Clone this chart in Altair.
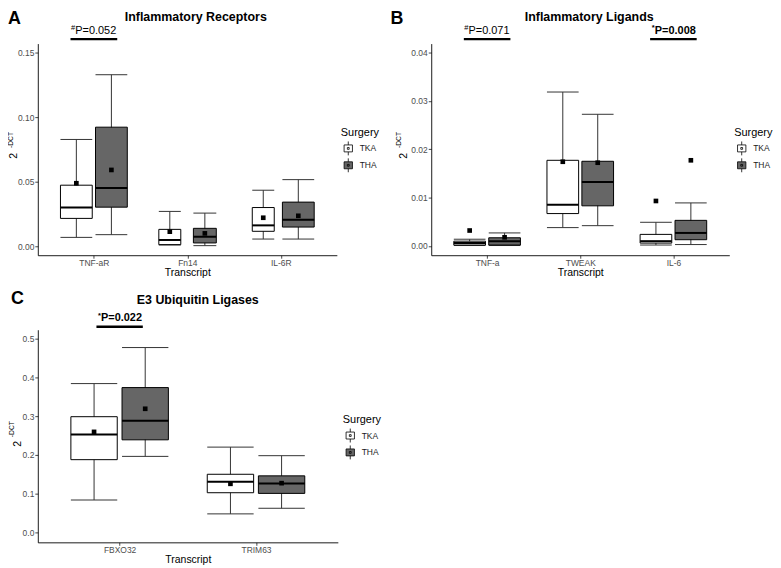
import altair as alt
import pandas as pd

FONT = "Liberation Sans"
surgeries = ["TKA", "THA"]
fill_colors = ["#FFFFFF", "#666666"]

# ---------- Panel A: Inflammatory Receptors ----------
a_cats = ["TNF-aR", "Fn14", "IL-6R"]
a_tka_lower = [0.0069, 0.0010, 0.0056]
a_tka_q1 = [0.0216, 0.0013, 0.0116]
a_tka_median = [0.0300, 0.0049, 0.0162]
a_tka_q3 = [0.0473, 0.0131, 0.0300]
a_tka_upper = [0.0827, 0.0270, 0.0434]
a_tka_mean = [0.0488, 0.0113, 0.0221]
a_tka_width = [0.34, 0.235, 0.235]
a_tha_lower = [0.0090, 0.0005, 0.0056]
a_tha_q1 = [0.0303, 0.0026, 0.0149]
a_tha_median = [0.0452, 0.0074, 0.0205]
a_tha_q3 = [0.0922, 0.0139, 0.0342]
a_tha_upper = [0.1328, 0.0257, 0.0516]
a_tha_mean = [0.0591, 0.0100, 0.0236]
a_tha_width = [0.34, 0.245, 0.34]
a_yticks = [0.0, 0.05, 0.10, 0.15]
a_ann_x = [1]
a_ann_sym = ["#"]
a_ann_label = ["P=0.052"]
a_ann_bold = [False]

# ---------- Panel B: Inflammatory Ligands ----------
b_cats = ["TNF-a", "TWEAK", "IL-6"]
b_tka_lower = [0.0001, 0.0038, 0.0002]
b_tka_q1 = [0.0002, 0.0067, 0.0006]
b_tka_median = [0.0006, 0.0085, 0.0010]
b_tka_q3 = [0.0010, 0.0177, 0.0024]
b_tka_upper = [0.0014, 0.0318, 0.0049]
b_tka_mean = [0.0032, 0.0174, 0.0093]
b_tka_width = [0.34, 0.34, 0.34]
b_tha_lower = [0.0001, 0.0042, 0.0003]
b_tha_q1 = [0.0002, 0.0083, 0.0013]
b_tha_median = [0.0010, 0.0132, 0.0027]
b_tha_q3 = [0.0017, 0.0175, 0.0053]
b_tha_upper = [0.0027, 0.0272, 0.0089]
b_tha_mean = [0.0018, 0.0172, 0.0177]
b_tha_width = [0.34, 0.34, 0.34]
b_yticks = [0.0, 0.01, 0.02, 0.03, 0.04]
b_ann_x = [1, 3]
b_ann_sym = ["#", "*"]
b_ann_label = ["P=0.071", "P=0.008"]
b_ann_bold = [False, True]

# ---------- Panel C: E3 Ubiquitin Ligases ----------
c_cats = ["FBXO32", "TRIM63"]
c_tka_lower = [0.0836, 0.0478]
c_tka_q1 = [0.1877, 0.1024]
c_tka_median = [0.2526, 0.1305]
c_tka_q3 = [0.2986, 0.1500]
c_tka_upper = [0.3840, 0.2201]
c_tka_mean = [0.2594, 0.1254]
c_tka_width = [0.34, 0.34]
c_tha_lower = [0.1962, 0.0623]
c_tha_q1 = [0.2389, 0.1007]
c_tha_median = [0.2884, 0.1263]
c_tha_q3 = [0.3737, 0.1459]
c_tha_upper = [0.4770, 0.1980]
c_tha_mean = [0.3190, 0.1271]
c_tha_width = [0.34, 0.34]
c_yticks = [0.0, 0.1, 0.2, 0.3, 0.4, 0.5]
c_ann_x = [1]
c_ann_sym = ["*"]
c_ann_label = ["P=0.022"]
c_ann_bold = [True]

DODGE = 0.1875

# legend key: mini box with whiskers and mean dot
SYMBOL = ("M-0.6,-0.5H0.6V0.5H-0.6Z M0,-1V-0.5 M0,0.5V1 "
          "M-0.13,-0.13H0.13V0.13H-0.13Z")


def box_df(cats, tka, tha):
    rows = []
    for i, cat in enumerate(cats):
        for s, vals, off in (("TKA", tka, -DODGE), ("THA", tha, DODGE)):
            pos = i + 1 + off
            half = vals[6][i] / 2
            rows.append(dict(transcript=cat, surgery=s, pos=pos,
                             xl=pos - half, xr=pos + half,
                             lower=vals[0][i], q1=vals[1][i], median=vals[2][i],
                             q3=vals[3][i], upper=vals[4][i], mean=vals[5][i]))
    return pd.DataFrame(rows)


def ann_df(xs, syms, labels, bolds, half):
    return pd.DataFrame(dict(x=xs, x1=[v - half for v in xs], x2=[v + half for v in xs],
                             sym=syms, label=labels, bold=bolds))


def panel(df, adf, cats, letter, title, ydom, yvals, yfmt, width, height,
          letter_x, letter_y, title_x, title_y, two_x, sup_x, two_y, sup_y,
          leg_x, leg_y, line_y, text_y):
    xmax = len(cats) + 0.6
    xs = alt.Scale(domain=[0.4, xmax], nice=False, zero=False)
    ys = alt.Scale(domain=ydom, nice=False, zero=False)
    expr = "[" + ",".join(["''"] + ["'%s'" % c for c in cats]) + "][datum.value]"
    xa = alt.Axis(values=list(range(1, len(cats) + 1)), labelExpr=expr,
                  title="Transcript", grid=False, labelPadding=0,
                  labelColor="#4D4D4D", labelFont=FONT, labelFontSize=8.5,
                  titleColor="black", titleFont=FONT, titleFontSize=10.5,
                  titleFontWeight="normal", titlePadding=1,
                  domainColor="black", tickColor="#333333")
    ya = alt.Axis(values=yvals, format=yfmt, title=None, grid=False,
                  labelColor="#4D4D4D", labelFont=FONT, labelFontSize=8.5,
                  labelPadding=1, domainColor="black", tickColor="#333333")

    def X(f):
        return alt.X(f, type="quantitative", scale=xs, axis=xa)

    def Y(f):
        return alt.Y(f, type="quantitative", scale=ys, axis=ya)

    base = alt.Chart(df)
    whisk = base.mark_rule(color="#333333", strokeWidth=1).encode(
        x=X("pos"), y=Y("lower"), y2=alt.Y2("upper"))
    cap_hi = base.mark_rule(color="#333333", strokeWidth=1).encode(
        x=X("xl"), x2=alt.X2("xr"), y=Y("upper"))
    cap_lo = base.mark_rule(color="#333333", strokeWidth=1).encode(
        x=X("xl"), x2=alt.X2("xr"), y=Y("lower"))
    box = base.mark_rect(stroke="black", strokeWidth=1).encode(
        x=X("xl"), x2=alt.X2("xr"), y=Y("q1"), y2=alt.Y2("q3"),
        fill=alt.Fill("surgery:N",
                      scale=alt.Scale(domain=surgeries, range=fill_colors),
                      legend=alt.Legend(title="Surgery", orient="none",
                                        legendX=leg_x, legendY=leg_y,
                                        direction="vertical",
                                        symbolType=SYMBOL, symbolSize=196,
                                        symbolStrokeColor="black",
                                        symbolStrokeWidth=0.8,
                                        symbolOpacity=1,
                                        labelFont=FONT, labelFontSize=8.5,
                                        labelColor="#1a1a1a", labelOffset=4,
                                        titleFont=FONT, titleFontSize=11,
                                        titleFontWeight="normal",
                                        titleColor="black", titlePadding=3,
                                        rowPadding=-8, padding=0)))
    med = base.mark_rule(color="black", strokeWidth=2).encode(
        x=X("xl"), x2=alt.X2("xr"), y=Y("median"))
    mean = base.mark_point(shape="square", filled=True, size=22, color="black",
                           opacity=1).encode(x=X("pos"), y=Y("mean"))

    ann = alt.Chart(adf)
    ann_rule = ann.mark_rule(color="black", strokeWidth=2.5).encode(
        x=X("x1"), x2=alt.X2("x2"), y=alt.value(line_y))
    layers = [whisk, cap_hi, cap_lo, box, med, mean, ann_rule]
    for flag, weight in ((False, "normal"), (True, "bold")):
        filt = "datum.bold" if flag else "!datum.bold"
        layers.append(ann.transform_filter(filt).mark_text(
            align="left", baseline="alphabetic", dx=-18.7, font=FONT,
            fontSize=11, fontWeight=weight, color="black").encode(
            x=X("x"), y=alt.value(text_y), text="label:N"))
        layers.append(ann.transform_filter(filt).mark_text(
            align="right", baseline="alphabetic", dx=-18.9, font=FONT,
            fontSize=7.5, fontWeight=weight, color="black").encode(
            x=X("x"), y=alt.value(text_y - 3.8), text="sym:N"))

    one = alt.Chart(pd.DataFrame({"v": [0]}))
    layers.append(one.mark_text(text=letter, font=FONT, fontSize=18,
                                fontWeight="bold", align="left", baseline="top",
                                color="black").encode(
        x=alt.value(letter_x), y=alt.value(letter_y)))
    layers.append(one.mark_text(text=title, font=FONT, fontSize=12.5,
                                fontWeight="bold", align="center", baseline="top",
                                color="black").encode(
        x=alt.value(title_x), y=alt.value(title_y)))
    layers.append(one.mark_text(text="2", font=FONT, fontSize=10.5, angle=270,
                                align="center", baseline="alphabetic",
                                color="black").encode(
        x=alt.value(two_x), y=alt.value(two_y)))
    layers.append(one.mark_text(text="-DCT", font=FONT, fontSize=6.8, angle=270,
                                align="center", baseline="alphabetic",
                                color="black").encode(
        x=alt.value(sup_x), y=alt.value(sup_y)))

    return alt.layer(*layers).properties(width=width, height=height)


dfa = box_df(a_cats, (a_tka_lower, a_tka_q1, a_tka_median, a_tka_q3, a_tka_upper, a_tka_mean, a_tka_width),
             (a_tha_lower, a_tha_q1, a_tha_median, a_tha_q3, a_tha_upper, a_tha_mean, a_tha_width))
dfb = box_df(b_cats, (b_tka_lower, b_tka_q1, b_tka_median, b_tka_q3, b_tka_upper, b_tka_mean, b_tka_width),
             (b_tha_lower, b_tha_q1, b_tha_median, b_tha_q3, b_tha_upper, b_tha_mean, b_tha_width))
dfc = box_df(c_cats, (c_tka_lower, c_tka_q1, c_tka_median, c_tka_q3, c_tka_upper, c_tka_mean, c_tka_width),
             (c_tha_lower, c_tha_q1, c_tha_median, c_tha_q3, c_tha_upper, c_tha_mean, c_tha_width))

pa = panel(dfa, ann_df(a_ann_x, a_ann_sym, a_ann_label, a_ann_bold, 0.25), a_cats,
           "A", "Inflammatory Receptors", [-0.0069, 0.1569], a_yticks, ".2f", 301, 213,
           -30, -34, 159, -33, -21, -25, 113, 97, 305, 84, -4.5, -9.5)
pb = panel(dfb, ann_df(b_ann_x, b_ann_sym, b_ann_label, b_ann_bold, 0.25), b_cats,
           "B", "Inflammatory Ligands", [-0.0019, 0.0418], b_yticks, ".2f", 300, 213,
           -41, -34, 159, -33, -24.7, -30.5, 113, 97, 305, 84, -4.5, -9.5)
pc = panel(dfc, ann_df(c_ann_x, c_ann_sym, c_ann_label, c_ann_bold, 0.17), c_cats,
           "C", "E3 Ubiquitin Ligases", [-0.0256, 0.523], c_yticks, ".1f", 302, 214,
           -27, -39.5, 161, -36, -17, -23.5, 115, 100, 307, 85, -3, -8.5)

top = alt.hconcat(pa, pb, spacing=95, bounds="flush").resolve_scale(fill="independent")
chart = (alt.vconcat(top, pc, spacing=12)
         .resolve_scale(fill="independent")
         .properties(padding=0)
         .configure_view(stroke=None)
         .configure_axis(domainColor="black", domainWidth=0.9, tickColor="#333333",
                         tickWidth=0.9, tickSize=3, labelFont=FONT, labelFontSize=8.5,
                         labelColor="#4D4D4D", labelPadding=1, titleFont=FONT,
                         titleFontSize=10.5, titleFontWeight="normal",
                         titleColor="black", titlePadding=1))

chart.save("out.html", embed_options={"renderer": "svg", "actions": False})
